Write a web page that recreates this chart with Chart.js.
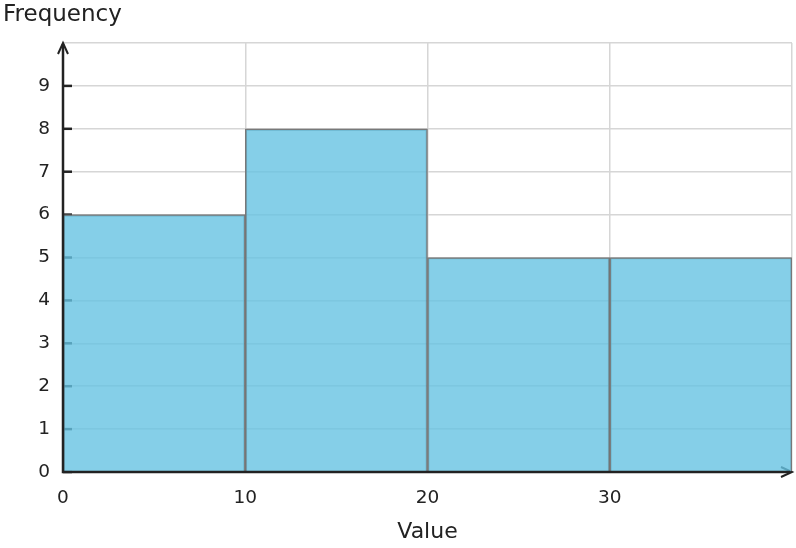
<!DOCTYPE html>
<html>
<head>
<meta charset="utf-8">
<script src="https://cdn.jsdelivr.net/npm/chart.js@4"></script>
<style>
  html, body { margin: 0; padding: 0; background: #fff; }
  #wrap { width: 796px; height: 548px; }
</style>
</head>
<body>
<div id="wrap"><canvas id="myChart" width="796" height="548"></canvas></div>
<script>
// histogram data
const binEdges = [0, 10, 20, 30, 40];
const frequencies = [6, 8, 5, 5];
const xTickValues = [0, 10, 20, 30];
const yTickValues = [0, 1, 2, 3, 4, 5, 6, 7, 8, 9];

const FONT = "'DejaVu Sans', sans-serif";
const INK = '#222';

const points = frequencies.map((f, i) => ({ x: (binEdges[i] + binEdges[i + 1]) / 2, y: f }));

// axes with arrows + inner y ticks
const axesPlugin = {
  id: 'axes',
  beforeDatasetsDraw(chart) {
    const { ctx, chartArea: a, scales } = chart;
    ctx.save();
    ctx.strokeStyle = INK;
    ctx.lineWidth = 2.5;
    yTickValues.forEach(v => {
      const y = scales.y.getPixelForValue(v);
      ctx.beginPath();
      ctx.moveTo(a.left, y);
      ctx.lineTo(a.left + 9, y);
      ctx.stroke();
    });
    // x arrowhead
    ctx.lineWidth = 2;
    ctx.beginPath();
    ctx.moveTo(a.right - 11, a.bottom - 5);
    ctx.lineTo(a.right, a.bottom);
    ctx.lineTo(a.right - 11, a.bottom + 5);
    ctx.stroke();
    ctx.restore();
  },
  afterDatasetsDraw(chart) {
    const { ctx, chartArea: a } = chart;
    ctx.save();
    ctx.strokeStyle = INK;
    ctx.lineWidth = 2.5;
    ctx.beginPath();
    ctx.moveTo(a.left, a.top + 1);
    ctx.lineTo(a.left, a.bottom);
    ctx.lineTo(a.right - 2, a.bottom);
    ctx.stroke();
    ctx.lineWidth = 2;
    ctx.beginPath();
    ctx.moveTo(a.left - 5, a.top + 11);
    ctx.lineTo(a.left, a.top);
    ctx.lineTo(a.left + 5, a.top + 11);
    ctx.stroke();
    ctx.fillStyle = INK;
    ctx.font = '23px ' + FONT;
    ctx.textBaseline = 'alphabetic';
    ctx.textAlign = 'left';
    ctx.fillText('Frequency', 3, 21);
    ctx.restore();
  }
};

const ctx = document.getElementById('myChart').getContext('2d');
const myChart = new Chart(ctx, {
  type: 'bar',
  data: {
    datasets: [{
      data: points,
      backgroundColor: 'rgba(103, 195, 226, 0.8)',
      borderColor: 'rgba(110, 110, 110, 0.9)',
      borderWidth: 1.5,
      barPercentage: 1,
      categoryPercentage: 1,
      grouped: false
    }]
  },
  options: {
    responsive: false,
    animation: false,
    layout: { padding: { top: 43, right: 4, left: 0, bottom: 0 } },
    plugins: { legend: { display: false }, tooltip: { enabled: false } },
    scales: {
      x: {
        type: 'linear',
        offset: false,
        min: binEdges[0],
        max: binEdges[binEdges.length - 1],
        afterFit: s => { s.height = 76; s.paddingLeft = 0; s.paddingRight = 0; },
        afterBuildTicks: s => { s.ticks = binEdges.map(v => ({ value: v })); },
        ticks: {
          padding: 15,
          color: INK,
          font: { family: FONT, size: 18.5 },
          callback: v => xTickValues.includes(v) ? String(v) : ''
        },
        grid: { color: '#d6d6d6', lineWidth: 1.5, drawTicks: false, offset: false },
        border: { display: false },
        title: {
          display: true,
          text: 'Value',
          color: INK,
          font: { family: FONT, size: 22 },
          padding: { top: 4, bottom: 3 }
        }
      },
      y: {
        min: 0,
        max: 10,
        afterFit: s => { s.width = 63; },
        afterBuildTicks: s => { s.ticks = yTickValues.concat([10]).map(v => ({ value: v })); },
        ticks: {
          padding: 13,
          color: INK,
          font: { family: FONT, size: 18.5 },
          callback: v => yTickValues.includes(v) ? String(v) : ''
        },
        grid: { color: '#d6d6d6', lineWidth: 1.5, drawTicks: false },
        border: { display: false }
      }
    }
  },
  plugins: [axesPlugin]
});
</script>
</body>
</html>
